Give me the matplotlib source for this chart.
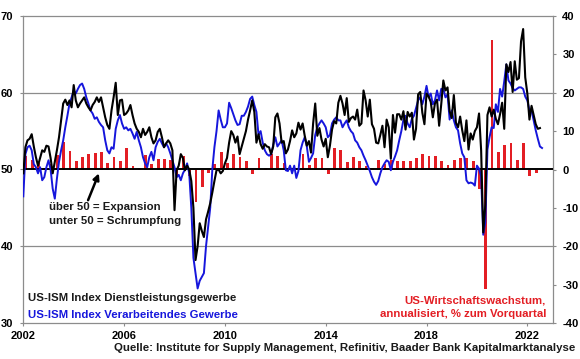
import numpy as np
import matplotlib
matplotlib.use("Agg")
import matplotlib.pyplot as plt

plt.rcParams['font.family'] = ['Liberation Sans', 'DejaVu Sans']
plt.rcParams['axes.unicode_minus'] = False

# ISM services index, monthly from Jan 2002
services = [
    49.5, 52.9, 53.8, 54.0, 54.6, 53.0, 51.6, 50.5, 51.5, 52.5, 52.3, 53.1,  # 2002
    53.0, 51.5, 49.5, 51.0, 52.5, 54.2, 56.4, 58.6, 59.1, 58.4, 59.0, 58.1,  # 2003
    61.0, 59.0, 58.1, 58.6, 59.0, 59.4, 58.6, 58.1, 57.7, 58.4, 58.8, 59.4,  # 2004
    58.8, 59.4, 58.1, 56.8, 55.8, 55.3, 57.7, 59.4, 61.3, 57.1, 59.0, 59.1,  # 2005
    57.1, 57.3, 57.7, 58.4, 57.1, 56.0, 55.3, 54.9, 54.2, 55.3, 54.5, 54.9,  # 2006
    55.5, 54.2, 53.4, 53.8, 54.9, 55.3, 54.2, 52.9, 53.4, 53.8, 53.4, 52.5,  # 2007
    44.7, 49.9, 50.5, 52.0, 51.5, 49.9, 50.5, 50.0, 48.5, 45.0, 38.2, 40.0,  # 2008
    43.0, 42.0, 41.2, 43.5, 44.5, 45.6, 47.0, 48.5, 49.9, 50.0, 49.5, 49.8,  # 2009
    50.8, 51.5, 53.5, 55.0, 54.5, 53.5, 54.3, 52.0, 53.0, 54.0, 55.0, 56.5,  # 2010
    57.7, 59.0, 57.5, 53.5, 54.6, 53.3, 52.7, 53.3, 53.0, 52.9, 52.0, 53.0,  # 2011
    56.8, 57.3, 56.0, 53.5, 53.7, 52.1, 52.6, 53.7, 55.1, 54.2, 54.7, 56.1,  # 2012
    55.2, 56.0, 54.4, 53.1, 53.7, 52.2, 56.0, 58.6, 54.4, 55.4, 53.9, 53.0,  # 2013
    54.0, 51.6, 53.1, 55.2, 56.3, 56.0, 58.7, 59.6, 58.6, 57.1, 59.3, 56.2,  # 2014
    56.7, 56.9, 56.5, 57.8, 55.7, 56.0, 60.3, 59.0, 56.9, 59.1, 55.9, 55.3,  # 2015
    53.5, 53.4, 54.5, 55.7, 52.9, 56.5, 55.5, 51.4, 57.1, 54.8, 57.2, 57.2,  # 2016
    56.5, 57.6, 55.2, 57.5, 56.9, 57.4, 53.9, 55.3, 59.8, 60.1, 57.4, 55.9,  # 2017
    59.9, 59.5, 58.8, 56.8, 58.6, 59.1, 55.7, 58.5, 61.6, 60.3, 60.7, 57.6,  # 2018
    56.7, 59.7, 56.1, 55.5, 56.9, 55.1, 53.7, 56.4, 52.6, 54.7, 53.9, 55.0,  # 2019
    55.5, 57.3, 52.5, 41.8, 45.4, 57.1, 58.1, 56.9, 57.8, 56.6, 55.9, 57.2,  # 2020
    58.7, 55.3, 63.7, 62.7, 64.0, 60.1, 64.1, 61.7, 61.9, 66.7, 68.3, 62.0,  # 2021
    59.9, 56.5, 58.3, 57.1, 55.9, 55.3, 55.4,                                # 2022
]

# ISM manufacturing index, monthly from Jan 2002
manufacturing = [
    46.5, 52.0, 52.9, 53.1, 52.5, 50.7, 50.3, 49.5, 50.3, 48.6, 49.0, 50.3,  # 2002
    51.2, 50.0, 47.5, 46.2, 48.8, 51.0, 52.5, 53.8, 55.5, 57.0, 58.6, 59.4,  # 2003
    60.3, 59.9, 60.5, 61.0, 61.2, 60.5, 59.4, 58.6, 57.7, 57.3, 56.6, 56.8,  # 2004
    56.2, 55.8, 55.5, 53.8, 52.5, 52.1, 52.9, 52.7, 55.3, 56.4, 57.1, 56.0,  # 2005
    55.3, 55.5, 55.1, 55.3, 54.7, 54.0, 54.9, 53.8, 52.9, 51.6, 50.8, 50.3,  # 2006
    51.6, 52.3, 51.2, 52.9, 53.6, 54.0, 53.4, 52.9, 53.4, 52.9, 52.1, 51.2,  # 2007
    50.3, 49.0, 49.3, 48.6, 49.5, 50.0, 50.8, 49.5, 45.0, 38.5, 36.5, 34.5,  # 2008
    35.5, 36.0, 36.5, 40.0, 42.5, 45.0, 50.0, 52.9, 55.0, 57.7, 56.5, 55.5,  # 2009
    55.5, 56.0, 58.7, 58.0, 57.2, 56.4, 55.8, 55.9, 57.0, 57.0, 57.5, 58.2,  # 2010
    59.2, 59.5, 58.4, 57.5, 54.5, 55.0, 53.5, 52.5, 52.0, 51.8, 52.0, 53.2,  # 2011
    54.2, 53.0, 53.4, 53.8, 52.5, 49.9, 49.8, 50.5, 49.5, 50.5, 48.9, 49.8,  # 2012
    52.5, 53.5, 54.2, 53.0, 51.0, 51.5, 52.1, 54.5, 55.5, 56.0, 56.4, 56.0,  # 2013
    55.5, 54.2, 54.5, 56.0, 56.5, 56.8, 56.4, 56.4, 55.5, 56.0, 56.4, 55.5,  # 2014
    55.0, 54.7, 53.8, 53.5, 52.9, 52.5, 51.8, 51.2, 50.5, 49.8, 49.0, 48.4,  # 2015
    48.0, 48.5, 49.5, 50.3, 50.8, 51.2, 51.0, 49.9, 51.0, 51.7, 52.5, 53.8,  # 2016
    55.0, 56.5, 57.0, 56.0, 55.5, 56.6, 57.0, 58.0, 59.0, 59.4, 58.5, 59.5,  # 2017
    60.9, 59.4, 59.9, 58.5, 59.0, 60.3, 59.0, 60.5, 60.5, 59.4, 59.8, 56.5,  # 2018
    57.7, 56.4, 55.5, 55.1, 53.4, 52.1, 51.6, 48.6, 48.2, 48.3, 48.2, 47.9,  # 2019
    50.5, 50.1, 49.1, 41.5, 43.1, 52.6, 54.2, 55.5, 55.4, 58.5, 57.5, 60.5,  # 2020
    59.5, 61.5, 63.7, 61.6, 61.2, 60.6, 60.3, 60.5, 60.7, 60.7, 60.5, 59.5,  # 2021
    59.0, 57.7, 57.7, 56.4, 55.1, 54.0, 53.0, 52.8,                          # 2022
]

# US GDP growth, annualised % q/q, quarterly from Q1 2002
gdp = [
    3.6, 2.5, 1.6, 0.4,     # 2002
    1.5, 3.8, 7.1, 4.8,     # 2003
    2.3, 3.3, 4.1, 4.4,     # 2004
    4.6, 1.7, 3.3, 2.3,     # 2005
    5.7, 0.9, 0.5, 3.9,     # 2006
    1.5, 2.8, 2.8, 2.6,     # 2007
    -2.0, 3.5, -1.6, -8.5,  # 2008
    -4.6, -1.0, 1.5, 4.6,   # 2009
    1.8, 4.1, 3.2, 2.3,     # 2010
    -1.1, 2.9, 0.3, 4.1,    # 2011
    3.6, 1.8, 0.5, 0.3,     # 2012
    4.1, 1.1, 3.1, 3.1,     # 2013
    -1.3, 5.5, 5.0, 1.9,    # 2014
    3.3, 2.3, 0.8, 0.4,     # 2015
    2.5, 1.5, 2.4, 2.1,     # 2016
    2.1, 2.3, 3.1, 4.1,     # 2017
    3.4, 3.5, 2.2, 1.1,     # 2018
    2.6, 2.9, 2.9, 2.2,     # 2019
    -5.0, -31.2, 33.8, 4.6, # 2020
    6.4, 6.8, 2.5, 7.0,     # 2021
    -1.8, -1.0,             # 2022
]

year_ticks = [2002, 2006, 2010, 2014, 2018, 2022]

x_serv = 2002 + np.arange(len(services)) / 12
x_manu = 2002 + np.arange(len(manufacturing)) / 12
x_gdp = 2002 + (3 * np.arange(len(gdp)) + 1.2) / 12

BLUE = '#1616dc'
RED = '#e31e24'
GRAY = '#8c8c8c'
W, H = 580, 359

fig = plt.figure(figsize=(W / 100, H / 100), dpi=100)
ax = fig.add_axes([23.3 / W, 1 - 323 / H, 530 / W, 307 / H])
ax2 = ax.twinx()
ax.set_zorder(ax2.get_zorder() + 1)
ax.patch.set_visible(False)

# GDP bars (right axis)
ax2.bar(x_gdp, gdp, width=0.11, color=RED, zorder=3)
ax2.set_ylim(-40, 40)
ax2.set_yticks(range(-40, 41, 10))
for yv in (-20, 20, 40):
    ax2.axhline(yv, color=GRAY, lw=0.9, zorder=1, clip_on=False)

# ISM lines (left axis)
ax.axhline(50, color='black', lw=1.4, zorder=2)
ax.plot(x_serv, services, color='black', lw=1.5, zorder=4)
ax.plot(x_manu, manufacturing, color=BLUE, lw=1.4, zorder=3)
ax.set_ylim(30, 70)
ax.set_yticks([30, 40, 50, 60, 70])
ax.set_xlim(2002, 2023.03)
ax.set_xticks(year_ticks)

for a in (ax, ax2):
    for s in a.spines.values():
        s.set_visible(False)
ax.spines['left'].set_visible(True)
ax.spines['bottom'].set_visible(True)
ax2.spines['right'].set_visible(True)
for s in (ax.spines['left'], ax.spines['bottom'], ax2.spines['right']):
    s.set_color(GRAY)
    s.set_linewidth(0.9)

tick_font = dict(labelsize=8, colors='black', length=2.5, color=GRAY, width=0.8)
ax.tick_params(axis='x', pad=3, **tick_font)
ax.tick_params(axis='y', pad=5, **tick_font)
ax2.tick_params(axis='y', pad=4, **tick_font)
for lab in ax.get_xticklabels() + ax.get_yticklabels() + ax2.get_yticklabels():
    lab.set_fontweight('bold')

# annotation arrow
ax.annotate('', xy=(2005.0, 49.5), xytext=(2004.57, 46.0),
            arrowprops=dict(arrowstyle='-|>', color='black', lw=1.8,
                            mutation_scale=9, shrinkA=0, shrinkB=0),
            zorder=5)

txt = dict(fontsize=8.2, fontweight='bold', va='center')
fig.text(49 / W, 1 - 207 / H, 'über 50 = Expansion', color='#1a1a1a', **txt)
fig.text(49 / W, 1 - 221 / H, 'unter 50 = Schrumpfung', color='#1a1a1a', **txt)
fig.text(28 / W, 1 - 298 / H, 'US-ISM Index Dienstleistungsgewerbe', color='#1a1a1a', **txt)
fig.text(28 / W, 1 - 315 / H, 'US-ISM Index Verarbeitendes Gewerbe', color=BLUE, **txt)
fig.text(546 / W, 1 - 300.5 / H, 'US-Wirtschaftswachstum,', color=RED, ha='right', **txt)
fig.text(546 / W, 1 - 314 / H, 'annualisiert, % zum Vorquartal', color=RED, ha='right', **txt)
fig.text(575 / W, 1 - 348 / H,
         'Quelle: Institute for Supply Management, Refinitiv, Baader Bank Kapitalmarktanalyse',
         color='#1a1a1a', ha='right', **txt)

fig.savefig('out.png', dpi=100)
